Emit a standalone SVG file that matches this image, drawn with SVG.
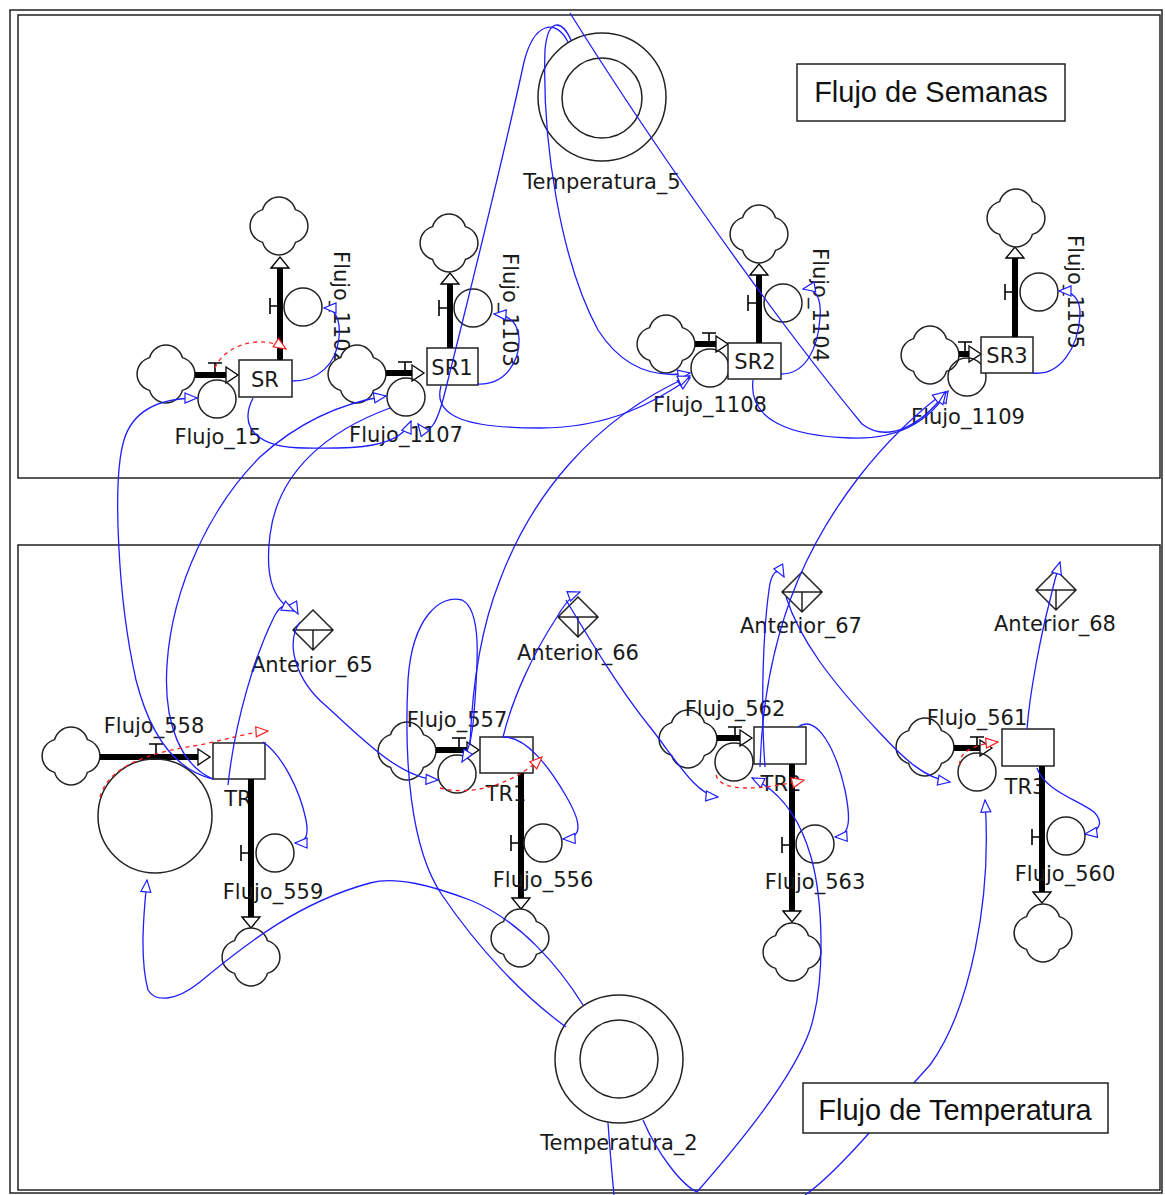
<svg xmlns="http://www.w3.org/2000/svg" xmlns:xlink="http://www.w3.org/1999/xlink" width="1165" height="1195" viewBox="0 0 1165 1195">
<style>
.frame{fill:none;stroke:#222;stroke-width:1.5}
.cloud{fill:#fff;stroke:#222;stroke-width:1.5}
.pipe{stroke:#000;stroke-width:6;fill:none}
.tip{fill:#fff;stroke:#000;stroke-width:1.3}
.valve{stroke:#000;stroke-width:1.6;fill:none}
.aux{fill:none;stroke:#222;stroke-width:1.5}
.box{fill:#fff;stroke:#222;stroke-width:1.5}
.dia{fill:#fff;stroke:#222;stroke-width:1.5}
.lbl{font-family:"DejaVu Sans",Verdana,sans-serif;font-size:21px;fill:#1a1a1a;text-anchor:middle}
.big{font-family:"Liberation Sans",Arial,sans-serif;font-size:29px;fill:#111;text-anchor:middle}
.blue{fill:none;stroke:#1e1eff;stroke-width:1.3;marker-end:url(#ab)}
.red{fill:none;stroke:#ff1e1e;stroke-width:1.3;stroke-dasharray:4 4;marker-end:url(#ar)}
</style>
<defs>
<path id="cloud" class="cloud" d="M16.4,-16.4 A17,17 0 0 1 16.4,16.4 A17,17 0 0 1 -16.4,16.4 A17,17 0 0 1 -16.4,-16.4 A17,17 0 0 1 16.4,-16.4 Z"/>
<marker id="ab" viewBox="0 0 14 12" refX="13" refY="6" markerWidth="14" markerHeight="12" markerUnits="userSpaceOnUse" orient="auto"><path d="M1,1 L13,6 L1,11 Z" fill="#fff" stroke="#1e1eff" stroke-width="1.2"/></marker>
<marker id="ar" viewBox="0 0 14 12" refX="13" refY="6" markerWidth="14" markerHeight="12" markerUnits="userSpaceOnUse" orient="auto"><path d="M1,1 L13,6 L1,11 Z" fill="#fff" stroke="#ff1e1e" stroke-width="1.2"/></marker>
</defs>
<rect width="1165" height="1195" fill="#fff"/>
<rect class="frame" x="10" y="10" width="1152" height="1183"/>
<rect class="frame" x="18" y="15" width="1142" height="463"/>
<rect class="frame" x="18" y="545" width="1142" height="645"/>

<g id="flujo_de_semanas"><rect class="box" x="797" y="64" width="268" height="57"/><text class="big" x="931" y="102">Flujo de Semanas</text></g>

<g id="temperatura_5"><circle class="aux" cx="602" cy="97" r="64"/><circle class="aux" cx="602" cy="98" r="40"/><text class="lbl" x="602" y="189">Temperatura_5</text></g>
<g id="temperatura_2"><circle class="aux" cx="619" cy="1059" r="64"/><circle class="aux" cx="619" cy="1059" r="39"/><text class="lbl" x="619" y="1150">Temperatura_2</text></g>

<!-- SR chain -->
<g id="sr_chain">
<use href="#cloud" x="166" y="374"/>
<line class="pipe" x1="195" y1="375" x2="227" y2="375"/><polygon class="tip" points="226,367 238,375 226,383"/>
<path class="valve" d="M208,363 H222 M215,363 V375"/>
<circle class="aux" cx="217" cy="399" r="19"/><text class="lbl" x="218" y="444">Flujo_15</text>
<rect class="box" x="239" y="360" width="53" height="37"/><text class="lbl" x="265" y="387">SR</text>
<line class="pipe" x1="280" y1="360" x2="280" y2="267"/><polygon class="tip" points="271,268 280,257 289,268"/>
<use href="#cloud" x="279" y="226"/>
<path class="valve" d="M270,298 V314 M270,306 H280"/>
<circle class="aux" cx="303" cy="307" r="19"/>
<text class="lbl" x="341" y="308" transform="rotate(90 341 308)" dominant-baseline="central">Flujo_1102</text>
</g>
<!-- SR1 chain -->
<g id="sr1_chain">
<use href="#cloud" x="357" y="374"/>
<line class="pipe" x1="386" y1="373" x2="413" y2="373"/><polygon class="tip" points="412,365 424,373 412,381"/>
<path class="valve" d="M398,362 H412 M405,362 V373"/>
<circle class="aux" cx="406" cy="397" r="19"/><text class="lbl" x="406" y="442">Flujo_1107</text>
<rect class="box" x="427" y="348" width="51" height="37"/><text class="lbl" x="452" y="375">SR1</text>
<line class="pipe" x1="450" y1="348" x2="450" y2="283"/><polygon class="tip" points="441,284 450,273 459,284"/>
<use href="#cloud" x="449" y="243"/>
<path class="valve" d="M439,300 V316 M439,308 H450"/>
<circle class="aux" cx="473" cy="308" r="19"/>
<text class="lbl" x="510" y="310" transform="rotate(90 510 310)" dominant-baseline="central">Flujo_1103</text>
</g>
<!-- SR2 chain -->
<g id="sr2_chain">
<use href="#cloud" x="666" y="344"/>
<line class="pipe" x1="695" y1="344" x2="717" y2="344"/><polygon class="tip" points="716,336 728,344 716,352"/>
<path class="valve" d="M702,333 H716 M709,333 V344"/>
<circle class="aux" cx="710" cy="368" r="19"/><text class="lbl" x="710" y="412">Flujo_1108</text>
<rect class="box" x="728" y="343" width="53" height="36"/><text class="lbl" x="755" y="369">SR2</text>
<line class="pipe" x1="759" y1="343" x2="759" y2="274"/><polygon class="tip" points="750,275 759,264 768,275"/>
<use href="#cloud" x="759" y="234"/>
<path class="valve" d="M748,295 V311 M748,303 H759"/>
<circle class="aux" cx="783" cy="303" r="19"/>
<text class="lbl" x="820" y="305" transform="rotate(90 820 305)" dominant-baseline="central">Flujo_1104</text>
</g>
<!-- SR3 chain -->
<g id="sr3_chain">
<use href="#cloud" x="930" y="355"/>
<line class="pipe" x1="959" y1="354" x2="970" y2="354"/><polygon class="tip" points="969,346 981,354 969,362"/>
<path class="valve" d="M958,342 H972 M965,342 V354"/>
<circle class="aux" cx="967" cy="377" r="19"/><text class="lbl" x="968" y="424">Flujo_1109</text>
<rect class="box" x="981" y="337" width="52" height="36"/><text class="lbl" x="1007" y="363">SR3</text>
<line class="pipe" x1="1015" y1="337" x2="1015" y2="258"/><polygon class="tip" points="1006,258 1015,247 1024,258"/>
<use href="#cloud" x="1016" y="218"/>
<path class="valve" d="M1005,284 V300 M1005,292 H1015"/>
<circle class="aux" cx="1039" cy="292" r="19"/>
<text class="lbl" x="1075" y="292" transform="rotate(90 1075 292)" dominant-baseline="central">Flujo_1105</text>
</g>

<!-- TR chain -->
<g id="tr_chain">
<use href="#cloud" x="71" y="756"/>
<line class="pipe" x1="100" y1="757" x2="199" y2="757"/><polygon class="tip" points="198,749 210,757 198,765"/>
<path class="valve" d="M149,744 H163 M156,744 V757"/>
<circle class="aux" cx="155" cy="816" r="57"/><text class="lbl" x="154" y="733">Flujo_558</text>
<rect class="box" x="213" y="743" width="52" height="36"/><text class="lbl" x="238" y="806">TR</text>
<line class="pipe" x1="251" y1="779" x2="251" y2="918"/><polygon class="tip" points="242,917 251,928 260,917"/>
<use href="#cloud" x="251" y="957"/>
<path class="valve" d="M241,845 V861 M241,853 H251"/>
<circle class="aux" cx="275" cy="853" r="19"/><text class="lbl" x="273" y="899">Flujo_559</text>
</g>
<!-- TR1 chain -->
<g id="tr1_chain">
<use href="#cloud" x="407" y="751"/>
<line class="pipe" x1="436" y1="750" x2="468" y2="750"/><polygon class="tip" points="467,742 479,750 467,758"/>
<path class="valve" d="M452,738 H466 M459,738 V750"/>
<circle class="aux" cx="457" cy="774" r="19"/><text class="lbl" x="457" y="727">Flujo_557</text>
<rect class="box" x="480" y="737" width="53" height="36"/><text class="lbl" x="506" y="801">TR1</text>
<line class="pipe" x1="521" y1="773" x2="521" y2="899"/><polygon class="tip" points="512,898 521,909 530,898"/>
<use href="#cloud" x="520" y="938"/>
<path class="valve" d="M511,835 V851 M511,843 H521"/>
<circle class="aux" cx="543" cy="843" r="19"/><text class="lbl" x="543" y="887">Flujo_556</text>
</g>
<!-- TR2 chain -->
<g id="tr2_chain">
<use href="#cloud" x="688" y="739"/>
<line class="pipe" x1="717" y1="738" x2="741" y2="738"/><polygon class="tip" points="740,730 752,738 740,746"/>
<path class="valve" d="M728,727 H742 M735,727 V738"/>
<circle class="aux" cx="734" cy="762" r="19"/><text class="lbl" x="735" y="716">Flujo_562</text>
<rect class="box" x="754" y="727" width="52" height="37"/><text class="lbl" x="781" y="791">TR2</text>
<line class="pipe" x1="792" y1="764" x2="792" y2="912"/><polygon class="tip" points="783,911 792,922 801,911"/>
<use href="#cloud" x="792" y="952"/>
<path class="valve" d="M782,837 V853 M782,845 H792"/>
<circle class="aux" cx="815" cy="844" r="19"/><text class="lbl" x="815" y="889">Flujo_563</text>
</g>
<!-- TR3 chain -->
<g id="tr3_chain">
<use href="#cloud" x="925" y="747"/>
<line class="pipe" x1="954" y1="748" x2="981" y2="748"/><polygon class="tip" points="980,740 992,748 980,756"/>
<path class="valve" d="M970,737 H984 M977,737 V748"/>
<circle class="aux" cx="977" cy="772" r="19"/><text class="lbl" x="977" y="725">Flujo_561</text>
<rect class="box" x="1002" y="729" width="52" height="37"/><text class="lbl" x="1025" y="794">TR3</text>
<line class="pipe" x1="1042" y1="766" x2="1042" y2="893"/><polygon class="tip" points="1033,892 1042,903 1051,892"/>
<use href="#cloud" x="1043" y="933"/>
<path class="valve" d="M1032,829 V845 M1032,837 H1042"/>
<circle class="aux" cx="1066" cy="836" r="19"/><text class="lbl" x="1065" y="881">Flujo_560</text>
</g>

<g id="anterior_65"><path class="dia" d="M293,630 L313,610 L333,630 L313,650 Z M293,630 H333 M313,630 V650"/><text class="lbl" x="312" y="672">Anterior_65</text></g>
<g id="anterior_66"><path class="dia" d="M558,617 L578,597 L598,617 L578,637 Z M558,617 H598 M578,617 V637"/><text class="lbl" x="578" y="660">Anterior_66</text></g>
<g id="anterior_67"><path class="dia" d="M782,592 L802,572 L822,592 L802,612 Z M782,592 H822 M802,592 V612"/><text class="lbl" x="801" y="633">Anterior_67</text></g>
<g id="anterior_68"><path class="dia" d="M1036,590 L1056,570 L1076,590 L1056,610 Z M1036,590 H1076 M1056,590 V610"/><text class="lbl" x="1055" y="631">Anterior_68</text></g>

<g id="connectors">
<path class="blue" d="M292,381 C318,381 336,365 339,338 C341,318 334,308 324,308"/>
<path class="blue" d="M478,384 C505,385 520,362 519,338 C518,322 508,315 494,314"/>
<path class="blue" d="M781,374 C806,374 818,348 820,318 C822,296 814,287 803,289"/>
<path class="blue" d="M1033,373 C1060,376 1078,348 1080,316 C1081,298 1072,291 1059,291"/>
<path class="blue" d="M253,398 C238,428 258,448 305,448 C355,449 400,448 411,421"/>
<path class="blue" d="M441,386 C432,418 470,428 540,428 C610,428 655,402 690,378"/>
<path class="blue" d="M753,380 C748,420 790,436 850,438 C900,440 930,420 948,391"/>
<path class="blue" d="M570,13 C640,125 760,300 862,424 C888,444 922,425 946,392"/>
<path class="blue" d="M571,40 C562,20 548,17 545,50 C542,140 560,260 598,330 C625,372 660,378 690,373"/>
<path class="blue" d="M568,42 C556,18 534,22 524,62 C505,150 468,300 445,392 C438,420 430,440 418,424"/>
<path class="blue" d="M213,779 C175,770 150,735 136,680 C118,600 112,480 124,440 C133,410 160,398 197,398"/>
<path class="blue" d="M213,779 C182,766 163,725 167,665 C172,585 212,505 260,457 C292,428 335,404 386,396"/>
<path class="blue" d="M228,785 C235,720 255,655 275,615 C282,602 292,603 298,614"/>
<path class="blue" d="M390,408 C330,430 278,470 270,535 C265,575 272,600 294,611"/>
<path class="blue" d="M300,622 C284,645 298,682 325,705 C360,736 398,778 438,780"/>
<path class="blue" d="M566,1027 C522,995 478,948 442,895 C410,848 404,760 408,680 C412,618 440,594 462,600 C482,610 478,662 474,713 C472,740 468,752 462,762"/>
<path class="blue" d="M470,745 C472,690 480,630 500,580 C530,500 590,420 690,376"/>
<path class="blue" d="M503,737 C512,700 532,655 557,617 C565,603 572,595 580,592"/>
<path class="blue" d="M566,600 C590,640 620,690 650,727 C676,760 696,795 718,797"/>
<path class="blue" d="M503,737 C526,736 550,768 566,796 C580,820 585,838 563,839"/>
<path class="blue" d="M765,767 C760,700 764,625 769,590 C771,572 778,566 784,577"/>
<path class="blue" d="M786,597 C800,640 830,680 880,733 C905,760 925,778 950,782"/>
<path class="blue" d="M760,767 C762,700 773,640 798,580 C828,510 880,440 945,392"/>
<path class="blue" d="M798,727 C817,713 836,750 845,790 C850,815 852,836 835,837"/>
<path class="blue" d="M1027,729 C1030,690 1041,635 1050,600 C1054,582 1057,572 1060,562"/>
<path class="blue" d="M1037,768 C1044,790 1078,800 1094,812 C1104,822 1100,832 1085,834"/>
<path class="blue" d="M805,1195 C835,1175 880,1120 930,1065 C970,1010 992,900 985,800"/>
<path class="blue" d="M643,1120 C658,1155 682,1185 697,1192 C738,1145 792,1080 810,1030 C826,980 823,900 811,857 C801,822 782,792 752,778"/>
<path class="blue" style="marker-end:none" d="M608,1123 C610,1150 612,1175 614,1195"/>
<path class="blue" d="M583,1005 C560,968 520,920 470,900 C430,885 395,876 370,883 C300,902 248,942 200,982 C175,1002 155,1002 148,990 C140,960 143,920 147,880"/>
<path class="blue" d="M263,742 C282,755 300,790 306,820 C309,835 306,843 295,843"/>
<path class="red" d="M215,368 C225,344 262,334 286,349"/>
<path class="red" d="M100,797 C108,766 150,752 200,745 C232,738 252,732 268,731"/>
<path class="red" d="M440,788 C470,796 512,786 542,757"/>
<path class="red" d="M716,775 C720,793 762,790 804,780"/>
<path class="red" d="M960,765 C958,752 975,744 998,742"/>
</g>

<g id="flujo_de_temperatura"><rect class="box" x="803" y="1083" width="305" height="50"/><text class="big" x="955" y="1120">Flujo de Temperatura</text></g>
</svg>
